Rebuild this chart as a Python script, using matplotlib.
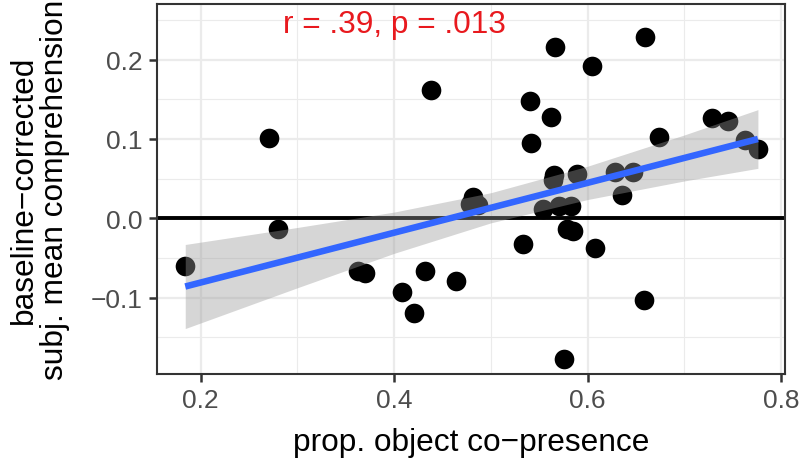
import matplotlib

matplotlib.use("Agg")
import matplotlib.pyplot as plt
import numpy as np

plt.rcParams["font.family"] = ["Liberation Sans", "DejaVu Sans"]

# prop. object co-presence vs baseline-corrected comprehension, one point per subject
copresence = [
    0.184, 0.271, 0.280, 0.363, 0.370, 0.408, 0.420, 0.432, 0.438, 0.464,
    0.481, 0.487, 0.478, 0.533, 0.541, 0.540, 0.554, 0.562, 0.565, 0.564,
    0.566, 0.570, 0.576, 0.579, 0.585, 0.583, 0.589, 0.605, 0.608, 0.628,
    0.636, 0.647, 0.658, 0.659, 0.674, 0.729, 0.745, 0.763, 0.776,
]
comprehension = [
    -0.060, 0.101, -0.013, -0.066, -0.069, -0.093, -0.119, -0.066, 0.162, -0.079,
    0.027, 0.017, 0.018, -0.033, 0.095, 0.148, 0.012, 0.128, 0.054, 0.048,
    0.216, 0.016, -0.178, -0.013, -0.016, 0.016, 0.056, 0.192, -0.038, 0.058,
    0.029, 0.058, -0.103, 0.228, 0.102, 0.126, 0.123, 0.099, 0.087,
]

# lm smooth as drawn in the figure: line end points and 95% band half-width
fit_x = [0.184, 0.776]
fit_y = [-0.086, 0.100]
band_x = [0.184, 0.30, 0.40, 0.50, 0.60, 0.70, 0.776]
band_half = [0.053, 0.038, 0.026, 0.019, 0.021, 0.029, 0.037]

x_ticks = [0.2, 0.4, 0.6, 0.8]
x_ticklabels = ["0.2", "0.4", "0.6", "0.8"]
y_ticks = [-0.1, 0.0, 0.1, 0.2]
y_ticklabels = ["\u22120.1", "0.0", "0.1", "0.2"]
annotation = "r = .39, p = .013"

fig = plt.figure(figsize=(8.04, 4.6), dpi=100)
ax = fig.add_axes([157 / 804, 85 / 460, 628 / 804, 370 / 460])

ax.set_xlim(0.1548, 0.804)
ax.set_ylim(-0.1963, 0.2702)

ax.set_xticks(x_ticks)
ax.set_xticklabels(x_ticklabels)
ax.set_yticks(y_ticks)
ax.set_yticklabels(y_ticklabels)
ax.set_xticks([0.3, 0.5, 0.7], minor=True)
ax.set_yticks([-0.15, -0.05, 0.05, 0.15, 0.25], minor=True)

ax.grid(which="major", color="#EBEBEB", linewidth=1.6, zorder=0)
ax.grid(which="minor", color="#EBEBEB", linewidth=0.8, zorder=0)
ax.tick_params(which="minor", length=0)
ax.tick_params(which="major", length=5.7, width=1.8, color="#333333",
               labelsize=19, labelcolor="#4D4D4D", pad=4.6)
for sp in ax.spines.values():
    sp.set_color("#333333")
    sp.set_linewidth(1.5)

ax.axhline(0, color="black", linewidth=2.8, zorder=2)

ax.scatter(copresence, comprehension, s=200, color="black", linewidths=0, zorder=3)

slope, intercept = np.polyfit(fit_x, fit_y, 1)
band_x = np.array(band_x)
band_mid = slope * band_x + intercept
ax.fill_between(band_x, band_mid - np.array(band_half), band_mid + np.array(band_half),
                color="#999999", alpha=0.4, linewidth=0, zorder=4)
ax.plot(fit_x, fit_y, color="#3366FF", linewidth=4.7, zorder=5, solid_capstyle="butt")

ax.text(0.4, 0.245, annotation, color="#E8191E", fontsize=22.8, ha="center", va="center", zorder=6)

ax.set_xlabel("prop. object co\u2212presence", fontsize=22.8)
ax.set_ylabel("baseline\u2212corrected\nsubj. mean comprehension", fontsize=22.8,
              linespacing=1.07)
ax.xaxis.set_label_coords(0.5, -0.143)
ax.yaxis.set_label_coords(-0.138, 0.5)

fig.savefig("out.png", dpi=100)
